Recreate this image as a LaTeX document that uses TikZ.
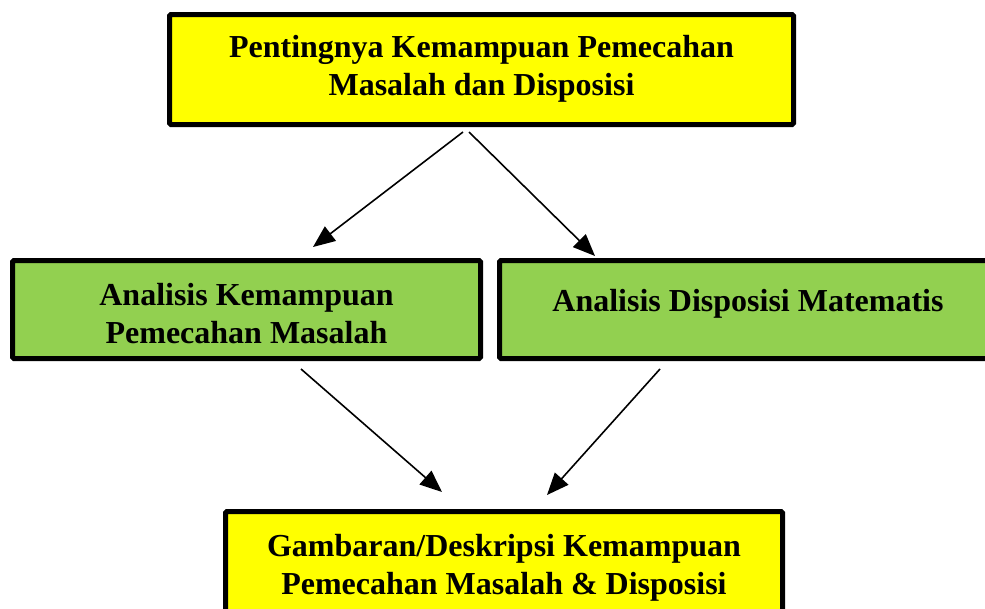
\documentclass[tikz,border=0pt]{standalone}
\usepackage{fontspec}
\setmainfont{Liberation Serif}
\usetikzlibrary{arrows.meta}
\definecolor{boxyellow}{RGB}{255,255,0}
\definecolor{boxgreen}{RGB}{146,208,80}
\begin{document}
\begin{tikzpicture}[x=1pt,y=-1pt,
  box/.style={draw=black, line width=5pt, rounded corners=1.5pt, rectangle, inner sep=0pt},
  ybox/.style={box, fill=boxyellow},
  gbox/.style={box, fill=boxgreen},
  label/.style={align=center, inner sep=0pt, font=\fontsize{32}{38}\selectfont\bfseries},
  conn/.style={line width=1.6pt, -{Triangle[length=22pt,width=18pt]}}]
\useasboundingbox (0,0) rectangle (985,608);
\clip (0,0) rectangle (985,608);
% boxes
\node[ybox, minimum width=624pt, minimum height=110pt] (top) at (481.5,69.5) {};
\node[gbox, minimum width=468pt, minimum height=98pt] (left) at (246.5,309.5) {};
\node[gbox, minimum width=501pt, minimum height=98pt] (right) at (750,309.5) {};
\node[ybox, minimum width=557pt, minimum height=120pt] (bottom) at (504,571.5) {};
% texts
\node[label] (toptext) at (481.5,69) {Pentingnya Kemampuan Pemecahan\\Masalah dan Disposisi};
\node[label] (lefttext) at (246.5,314) {Analisis Kemampuan\\Pemecahan Masalah};
\node[label] (righttext) at (748,304) {Analisis Disposisi Matematis};
\node[label] (bottomtext) at (504,568) {Gambaran/Deskripsi Kemampuan\\Pemecahan Masalah \& Disposisi};
% connector ends
\coordinate (a1s) at (463,132);
\coordinate (a1e) at (313,247);
\coordinate (a2s) at (469,132);
\coordinate (a2e) at (595,256);
\coordinate (a3s) at (301,369);
\coordinate (a3e) at (442,492);
\coordinate (a4s) at (660,369);
\coordinate (a4e) at (547,495);
\draw[conn] (a1s) -- (a1e);
\draw[conn] (a2s) -- (a2e);
\draw[conn] (a3s) -- (a3e);
\draw[conn] (a4s) -- (a4e);
\end{tikzpicture}
\end{document}
